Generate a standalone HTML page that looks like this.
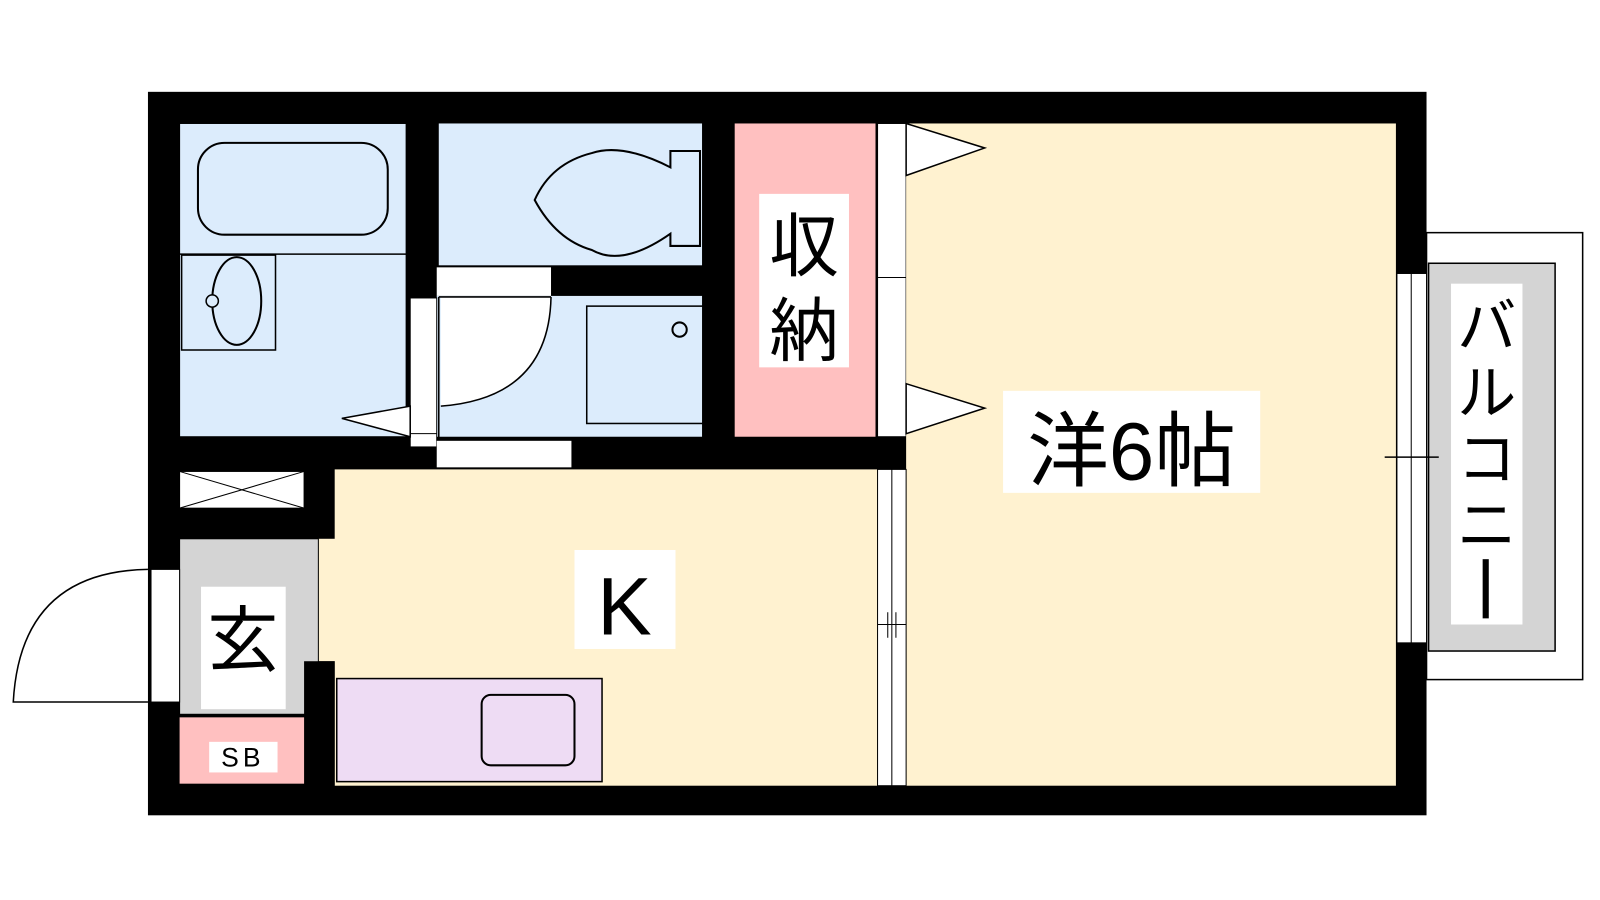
<!DOCTYPE html>
<html><head><meta charset="utf-8"><style>
html,body{margin:0;padding:0;background:#fff;width:1600px;height:900px;overflow:hidden}
svg{display:block}
text{font-family:"Liberation Sans","Noto Sans CJK JP",sans-serif;fill:#000}
</style></head><body>
<svg width="1600" height="900" viewBox="0 0 1568 882" preserveAspectRatio="none" xmlns="http://www.w3.org/2000/svg">
<rect width="1568" height="882" fill="#fff"/>
<!-- balcony -->
<rect x="1398" y="228" width="153" height="438" fill="#fff" stroke="#000" stroke-width="1.5"/>
<rect x="1400" y="258" width="124" height="380" fill="#d4d4d4" stroke="#000" stroke-width="1.5"/>
<rect x="1422" y="278" width="70" height="334" fill="#fff"/>
<!-- outer wall -->
<rect x="145" y="90" width="1253" height="709" fill="#000"/>
<!-- bath -->
<rect x="176" y="121" width="222" height="307" fill="#dcecfc" stroke="#000" stroke-width="1"/>
<line x1="176" y1="249" x2="398" y2="249" stroke="#000" stroke-width="1.5"/>
<rect x="194" y="140" width="186" height="90" rx="26" fill="none" stroke="#000" stroke-width="2"/>
<rect x="178" y="250" width="92" height="93" fill="none" stroke="#000" stroke-width="1.5"/>
<ellipse cx="232" cy="295" rx="24" ry="43" fill="none" stroke="#000" stroke-width="2"/>
<circle cx="208" cy="295" r="6" fill="#dcecfc" stroke="#000" stroke-width="1.5"/>
<!-- toilet -->
<rect x="430" y="121" width="258" height="139" fill="#dcecfc"/>
<path d="M657 148 L686 148 L686 241 L657 241 L657 229 Q610 262 580 245 Q545 235 524 196 Q540 160 580 150 Q610 140 657 164 Z" fill="none" stroke="#000" stroke-width="2"/>
<!-- washroom -->
<rect x="428" y="262" width="112" height="28" fill="#fff"/>
<rect x="428" y="290" width="260" height="138" fill="#dcecfc"/>
<path d="M432 291 L540 291 Q540 390 432 398 Z" fill="#fff"/>
<path d="M540 291 Q538 390 432 398" fill="none" stroke="#000" stroke-width="1.5"/>
<line x1="430" y1="291" x2="540" y2="291" stroke="#000" stroke-width="1.5"/>
<line x1="430" y1="291" x2="430" y2="430" stroke="#000" stroke-width="1.5"/>
<rect x="575" y="300" width="115" height="115" fill="none" stroke="#000" stroke-width="1.5"/>
<circle cx="666" cy="323" r="7" fill="none" stroke="#000" stroke-width="2"/>
<rect x="402" y="292" width="26" height="146" fill="#fff" stroke="#000" stroke-width="1"/>
<line x1="402" y1="425" x2="428" y2="425" stroke="#000" stroke-width="1"/>
<rect x="428" y="432" width="132" height="26" fill="#fff"/>
<polygon points="335,410 402,398 402,428" fill="#fff" stroke="#000" stroke-width="1.5"/>
<!-- storage -->
<rect x="720" y="121" width="138" height="307" fill="#ffc0c0"/>
<rect x="860" y="121" width="28" height="307" fill="#fff" stroke="#000" stroke-width="1"/>
<line x1="860" y1="272" x2="888" y2="272" stroke="#000" stroke-width="1"/>
<!-- western room -->
<rect x="888" y="121" width="480" height="649" fill="#fff2d0"/>
<polygon points="888,121 965,145 888,172" fill="#fff" stroke="#000" stroke-width="1.5"/>
<polygon points="888,376 965,400 888,425" fill="#fff" stroke="#000" stroke-width="1.5"/>
<!-- window right -->
<rect x="1369" y="268" width="29" height="362" fill="#fff" stroke="#000" stroke-width="1"/>
<line x1="1383" y1="268" x2="1383" y2="630" stroke="#000" stroke-width="1"/>
<line x1="1357" y1="448" x2="1410" y2="448" stroke="#000" stroke-width="1.5"/>
<!-- K room -->
<rect x="328" y="460" width="532" height="310" fill="#fff2d0"/>
<rect x="312" y="528" width="20" height="120" fill="#fff2d0"/>
<rect x="860" y="460" width="28" height="310" fill="#fff" stroke="#000" stroke-width="1"/>
<line x1="874" y1="460" x2="874" y2="770" stroke="#000" stroke-width="1"/>
<line x1="860" y1="612" x2="888" y2="612" stroke="#000" stroke-width="1"/>
<line x1="870" y1="600" x2="870" y2="625" stroke="#000" stroke-width="1"/>
<line x1="878" y1="600" x2="878" y2="625" stroke="#000" stroke-width="1"/>
<!-- counter -->
<rect x="330" y="665" width="260" height="101" fill="#eedcf4" stroke="#000" stroke-width="1.5"/>
<rect x="472" y="681" width="91" height="69" rx="9" fill="none" stroke="#000" stroke-width="2"/>
<!-- X box -->
<rect x="176" y="462" width="122" height="36" fill="#fff" stroke="#000" stroke-width="1"/>
<line x1="176" y1="462" x2="298" y2="498" stroke="#000" stroke-width="1"/>
<line x1="176" y1="498" x2="298" y2="462" stroke="#000" stroke-width="1"/>
<!-- genkan -->
<rect x="176" y="528" width="136" height="172" fill="#d4d4d4" stroke="#000" stroke-width="1"/>
<rect x="298" y="648" width="30" height="122" fill="#000"/>
<rect x="176" y="703" width="122" height="65" fill="#ffc0c0"/>
<!-- entry door -->
<rect x="148" y="558" width="28" height="130" fill="#fff" stroke="#000" stroke-width="1"/>
<path d="M145 558 Q20 560 13 688 L145 688" fill="none" stroke="#000" stroke-width="1.5"/>
<!-- labels -->
<rect x="744" y="190" width="88" height="170" fill="#fff"/>
<text x="788" y="265" font-size="68" text-anchor="middle">収</text>
<text x="788" y="348" font-size="68" text-anchor="middle">納</text>
<rect x="983" y="383" width="252" height="100" fill="#fff"/>
<text x="1109" y="470" font-size="80" text-anchor="middle">洋6帖</text>
<rect x="563" y="539" width="99" height="97" fill="#fff"/>
<text x="612" y="622" font-size="80" text-anchor="middle">K</text>
<rect x="197" y="575" width="83" height="120" fill="#fff"/>
<text x="238" y="652" font-size="70" text-anchor="middle">玄</text>
<rect x="205" y="727" width="67" height="30" fill="#fff"/>
<text x="238" y="751" font-size="26" text-anchor="middle" letter-spacing="4">SB</text>
<text x="1457" y="340" font-size="58" text-anchor="middle">バ</text>
<text x="1457" y="405" font-size="58" text-anchor="middle">ル</text>
<text x="1457" y="470" font-size="58" text-anchor="middle">コ</text>
<text x="1457" y="535" font-size="58" text-anchor="middle">ニ</text>
<rect x="1453" y="548" width="6" height="58" fill="#000"/>
</svg>
</body></html>
